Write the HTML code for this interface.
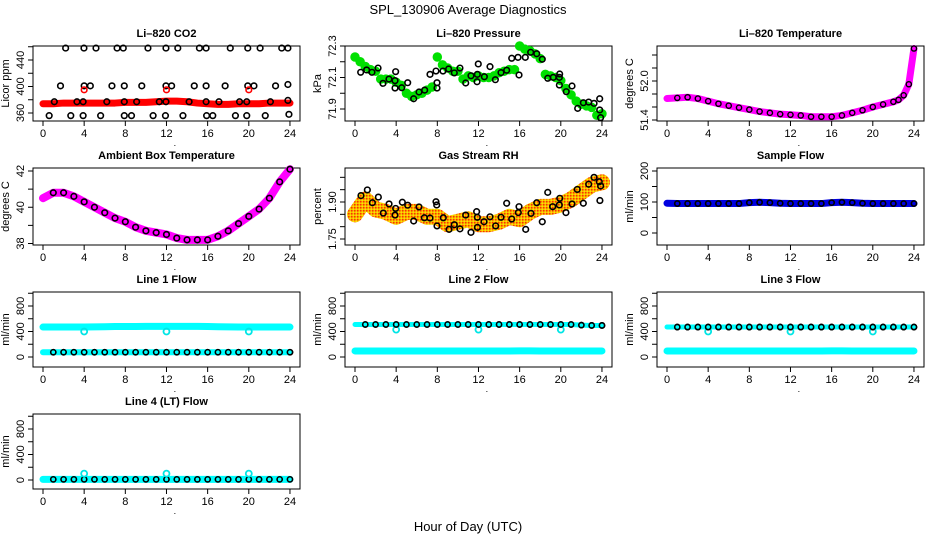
<!DOCTYPE html>
<html><head><meta charset="utf-8">
<style>
html,body{margin:0;padding:0;background:#fff;}
svg{display:block;font-family:"Liberation Sans",Arial,sans-serif;}
</style></head>
<body>
<svg id="chart" width="936" height="540" viewBox="0 0 936 540" xmlns="http://www.w3.org/2000/svg">
<defs>
<pattern id="rhpat" width="3" height="3" patternUnits="userSpaceOnUse">
<rect width="3" height="3" fill="#f5b800"/><rect width="1.5" height="1.5" fill="#ff3000"/><rect x="1.5" y="1.5" width="1.5" height="1.5" fill="#ffe000"/>
</pattern>
</defs>
<text x="468" y="14" text-anchor="middle" font-size="13">SPL_130906  Average Diagnostics</text>
<text x="468" y="531" text-anchor="middle" font-size="13">Hour of Day (UTC)</text>
</svg>
<script>
// ---------- data ----------
const hourTicks = [0,4,8,12,16,20,24];
const hours = [0,1,2,3,4,5,6,7,8,9,10,11,12,13,14,15,16,17,18,19,20,21,22,23,24];
const halfHours = [0,0.5,1,1.5,2,2.5,3,3.5,4,4.5,5,5.5,6,6.5,7,7.5,8,8.5,9,9.5,10,10.5,11,11.5,12,12.5,13,13.5,14,14.5,15,15.5,16,16.5,17,17.5,18,18.5,19,19.5,20,20.5,21,21.5,22,22.5,23,23.5,24];

const co2Red = [374,374,375,375,375,375,375,375,376,376,376,377,378,378,377,375,374,373,373,374,374,374,375,375,375];
const co2BlackHours = [2.2,3.98,5.15,7.2,7.8,10.2,11.95,13.1,15.2,15.85,18.2,19.9,21.1,23.2,23.8,
 1.7,4.0,4.6,6.7,7.9,9.6,11.95,12.5,14.7,15.85,17.7,19.9,20.5,22.6,23.8,
 1.1,3.3,3.9,6.2,7.9,9.1,11.3,11.95,14.2,15.85,17.1,19.1,19.8,22.1,23.8,
 0.6,2.7,3.9,5.6,7.9,8.6,10.7,11.9,13.6,15.9,16.5,18.7,19.8,21.6,23.9];
const co2BlackVals = [458,458,458,458,458,458,458,458,458,458,458,458,458,458,458,
 401,401,401,401,401,401,401,401,401,401,401,401,401,401,403,
 377,377,377,377,377,377,377,377,377,377,377,377,377,377,379,
 356,356,356,356,356,356,356,356,356,356,356,356,356,356,358];
const co2RedHours = [4,12,20];
const co2RedVals = [395,395,395];

const pressGreen = [72.23,72.2,72.17,72.15,72.14,72.09,72.09,72.09,72.07,72.05,72.0,71.98,71.99,72.0,72.02,72.04,72.23,72.18,72.16,72.14,72.14,72.09,72.11,72.1,72.11,72.1,72.1,72.11,72.13,72.14,72.15,72.15,72.3,72.28,72.27,72.25,72.22,72.12,72.11,72.1,72.08,72.03,71.99,71.95,71.93,71.92,71.91,71.86,71.87];
const pressBlackHours = [0.55,1.13,1.65,2.24,2.72,3.3,3.89,3.95,3.89,4.54,5.12,5.7,6.22,6.77,7.29,7.87,7.97,7.97,8.55,9.1,9.65,10.2,10.76,11.27,11.86,11.89,11.98,12.57,13.12,13.64,14.19,14.74,15.23,15.84,15.94,16.55,17.07,17.66,18.2,18.73,19.27,19.86,19.89,19.86,20.53,21.09,21.64,22.19,22.71,23.23,23.78,23.78,23.87];
const pressBlackVals = [72.133,72.148,72.133,72.16,72.063,72.09,72.08,72.137,72.033,72.035,72.067,71.965,72.008,72.02,72.12,72.141,72.067,72.033,72.141,72.154,72.129,72.16,72.065,72.111,72.073,72.12,72.186,72.105,72.169,72.086,72.131,72.146,72.222,72.228,72.116,72.228,72.26,72.251,72.216,72.095,72.101,72.101,72.122,72.052,72.01,72.046,71.904,71.94,71.944,71.936,71.965,71.894,71.845];

const licorTempHours = [0,1,2,3,4,5,6,7,8,9,10,11,12,13,14,15,16,17,18,19,20,21,22,22.5,23,23.5,24];
const licorTemp = [51.73,51.74,51.75,51.73,51.69,51.65,51.62,51.59,51.56,51.53,51.51,51.49,51.48,51.47,51.45,51.45,51.45,51.47,51.51,51.55,51.6,51.64,51.68,51.71,51.78,51.95,52.5];

const ambientTemp = [40.5,40.8,40.8,40.6,40.3,40.0,39.7,39.4,39.2,38.9,38.7,38.6,38.5,38.3,38.2,38.2,38.2,38.4,38.7,39.1,39.5,39.9,40.5,41.4,42.1];

const rhBand = [1.85,1.91,1.87,1.86,1.84,1.86,1.86,1.84,1.84,1.81,1.82,1.83,1.81,1.81,1.82,1.84,1.83,1.86,1.88,1.88,1.89,1.91,1.94,1.97,1.98];
const rhBlackHours = [0.58,1.2,1.69,2.27,2.75,3.31,3.89,3.95,4.6,5.12,5.7,6.22,6.74,7.29,7.87,7.94,7.97,8.58,9.14,9.65,10.2,10.76,11.27,11.82,11.89,11.9,12.54,13.12,13.67,14.19,14.74,15.23,15.87,15.94,16.59,17.1,17.66,18.2,18.73,19.21,19.86,19.9,20.5,21.09,21.6,22.19,22.71,23.23,23.74,23.87,23.8];
const rhBlackVals = [1.926,1.949,1.897,1.92,1.855,1.892,1.847,1.874,1.899,1.887,1.823,1.88,1.836,1.835,1.901,1.888,1.803,1.836,1.789,1.808,1.791,1.847,1.777,1.861,1.838,1.797,1.82,1.84,1.803,1.838,1.895,1.831,1.857,1.881,1.789,1.854,1.897,1.82,1.939,1.881,1.888,1.915,1.857,1.892,1.951,1.895,1.972,2.0,1.982,1.965,1.906];

const sampleFlow = [96,95,95,95,95,95,95,95,98,99,98,96,95,95,95,95,98,99,98,96,95,95,95,95,95];

const line1Cyan = [470,470,470,470,470,472,475,478,478,478,480,480,480,480,480,480,478,475,472,470,470,470,470,470,470];
const line1Black = [75,75,75,75,75,75,75,75,75,75,75,75,75,75,75,75,75,75,75,75,75,75,75,75,75];
const line2Black = [510,510,510,510,510,510,510,510,510,510,510,510,510,510,510,510,510,510,510,510,510,510,500,495,495];
const line2Cyan = [95,95,95,95,95,95,95,95,95,95,95,95,95,95,95,95,97,97,95,95,95,95,95,95,95];
const line3Black = [470,470,470,470,470,470,470,470,470,470,470,470,470,470,470,470,470,470,470,470,470,470,470,470,470];
const line3Cyan = [95,95,95,95,95,95,95,95,95,95,95,95,95,95,95,95,97,97,95,95,95,95,95,95,95];
const line4Black = [10,10,10,10,10,10,10,10,10,10,10,10,10,10,10,10,10,10,10,10,10,10,10,10,10];
const line4Cyan = [10,10,10,10,10,10,10,10,10,10,10,10,10,10,10,10,10,10,10,10,10,10,10,10,10];
const spikeHours = [4,12,20];
const line1Spikes = [400,400,400];
const line2Spikes = [430,430,430];
const line3Spikes = [400,400,400];
const line4Spikes = [100,100,100];

// ---------- drawing ----------
const svg = document.getElementById('chart');
const NS = 'http://www.w3.org/2000/svg';
const rowTop = [46,168,292,414], rowBot = [121,245,367,489];
function mk(tag, attrs, parent){ const e=document.createElementNS(NS,tag); for(const k in attrs) e.setAttribute(k,attrs[k]); (parent||svg).appendChild(e); return e; }

function panel(name, title, ytitle, col, row, ref, ticks, labels, dec){
  const g = mk('g',{});
  
  
  const L = 33+312*col, R = (col===2?924:300+312*col), T = rowTop[row], B = rowBot[row];
  const xs = h => 43+312*col + h*10.29;
  const ys = v => ref[1] + (v-ref[0])*(ref[3]-ref[1])/(ref[2]-ref[0]);
  const box = mk('rect',{x:L,y:T,width:R-L,height:B-T,fill:'none',stroke:'#000','stroke-width':1},g);
  
  
  const t = mk('text',{x:(L+R)/2,y:T-9,'text-anchor':'middle','font-size':11,'font-weight':'bold'},g);
  t.textContent = title;
  
  
  hourTicks.forEach(h=>{
    mk('line',{x1:xs(h),x2:xs(h),y1:B,y2:B+5,stroke:'#000'},g);
    const tl = mk('text',{x:xs(h),y:B+16,'text-anchor':'middle','font-size':11},g);
    tl.textContent = h;
    
    
  });
  const dot = mk('text',{x:xs(12.7),y:B+25,'font-size':9},g); dot.textContent='.';
  ticks.forEach(v=>{
    mk('line',{x1:L-5,x2:L,y1:ys(v),y2:ys(v),stroke:'#000'},g);
  });
  labels.forEach(v=>{
    const yl = mk('text',{x:0,y:0,'text-anchor':'middle','font-size':11,transform:`translate(${L-9},${ys(v)}) rotate(-90)`},g);
    yl.textContent = v.toFixed(dec||0);
    
    
  });
  const yt = mk('text',{x:0,y:0,'text-anchor':'middle','font-size':11,transform:`translate(${L-24},${(T+B)/2}) rotate(-90)`},g);
  yt.textContent = ytitle;
  
  
  return {g,xs,ys};
}
function band(p, hs, vs, color, w, nm){
  const pl = mk('polyline',{points:hs.map((h,i)=>p.xs(h)+','+p.ys(vs[i])).join(' '),fill:'none',stroke:color,'stroke-width':w,'stroke-linejoin':'round','stroke-linecap':'round'},p.g);
  
  
}
function pts(p, hs, vs, color, r, sw, fill, nm){
  hs.forEach((h,i)=>{
    const c = mk('circle',{cx:p.xs(h),cy:p.ys(vs[i]),r:r,fill:fill||'none',stroke:color,'stroke-width':sw},p.g);
    
    
  });
}
const flowTicks=[0,200,400,600,800,1000], flowLabels=[0,400,800];

// CO2
let p = panel('co2-panel','Li\u2013820 CO2','Licor ppm',0,0,[360,113,440,60],[360,380,400,420,440,460],[360,400,440],0);
band(p,hours,co2Red,'#f00',7,'co2-series');
pts(p,co2BlackHours,co2BlackVals,'#000',2.8,1.6,null,'co2-outlier-point');
pts(p,co2RedHours,co2RedVals,'#f00',2.8,1.6,null,'co2-red-point');
// Pressure
p = panel('pressure-panel','Li\u2013820 Pressure','kPa',1,0,[71.9,109,72.3,46],[71.9,72.0,72.1,72.2,72.3],[71.9,72.1,72.3],1);
pts(p,halfHours,pressGreen,'#00e000',3.5,2.5,'#00e000','pressure-point');
pts(p,pressBlackHours,pressBlackVals,'#000',2.8,1.6,null,'pressure-black-point');
// Licor temp
p = panel('licor-temp-panel','Li\u2013820 Temperature','degrees C',2,0,[51.4,120,52.0,81],[51.4,51.6,51.8,52.0,52.2,52.4],[51.4,52.0],1);
band(p,licorTempHours,licorTemp,'#f0f',7,'licor-temp-series');
pts(p,licorTempHours.slice(1),licorTemp.slice(1),'#000',2.6,1.4,null,'licor-temp-point');
// Ambient
p = panel('ambient-temp-panel','Ambient Box Temperature','degrees C',0,1,[38,243.5,42,171],[38,39,40,41,42],[38,40,42],0);
band(p,hours,ambientTemp,'#f0f',8,'ambient-temp-series');
pts(p,hours.slice(1),ambientTemp.slice(1),'#000',2.8,1.6,null,'ambient-temp-point');
// RH
p = panel('rh-panel','Gas Stream RH','percent',1,1,[1.75,239,1.90,202],[1.75,1.80,1.85,1.90,1.95,2.00],[1.75,1.90],2);
band(p,hours,rhBand,'url(#rhpat)',16,'rh-band');
pts(p,rhBlackHours,rhBlackVals,'#000',2.8,1.6,null,'rh-point');
// Sample flow
p = panel('sample-flow-panel','Sample Flow','ml/min',2,1,[0,233,200,171],[0,50,100,150,200],[0,100,200],0);
band(p,hours,sampleFlow,'#0000e0',7,'sample-flow-series');
pts(p,hours.slice(1),sampleFlow.slice(1),'#000',2.6,1.6,null,'sample-flow-point');
// Line flows
function flowPanel(name,title,col,row,ref,cyanVals,blackVals,spikes){
  const q = panel(name,title,'ml/min',col,row,ref,flowTicks,flowLabels,0);
  band(q,hours,cyanVals,'#00ffff',7,name+'-cyan-series');
  pts(q,hours.slice(1),blackVals.slice(1),'#000',2.6,1.6,null,name+'-black-point');
  pts(q,spikeHours,spikes,'#00e5e5',3,1.8,null,name+'-spike');
  return q;
}
p = flowPanel('line1-flow-panel','Line 1 Flow',0,2,[0,357,800,306],line1Cyan,line1Black,line1Spikes);
band(p,hours,line1Black,'#00ffff',6,'line1-low-series');
pts(p,hours.slice(1),line1Black.slice(1),'#000',2.6,1.6,null,'line1-low-point');
p = flowPanel('line2-flow-panel','Line 2 Flow',1,2,[0,357,800,306],line2Cyan,line2Black,line2Spikes);
band(p,hours,line2Black,'#00ffff',5,'line2-high-series');
pts(p,hours.slice(1),line2Black.slice(1),'#000',2.6,1.6,null,'line2-high-point');
p = flowPanel('line3-flow-panel','Line 3 Flow',2,2,[0,357,800,306],line3Cyan,line3Black,line3Spikes);
band(p,hours,line3Black,'#00ffff',5,'line3-high-series');
pts(p,hours.slice(1),line3Black.slice(1),'#000',2.6,1.6,null,'line3-high-point');
p = flowPanel('line4-flow-panel','Line 4 (LT) Flow',0,3,[0,480,800,429],line4Cyan,line4Black,line4Spikes);
</script>
</body></html>
